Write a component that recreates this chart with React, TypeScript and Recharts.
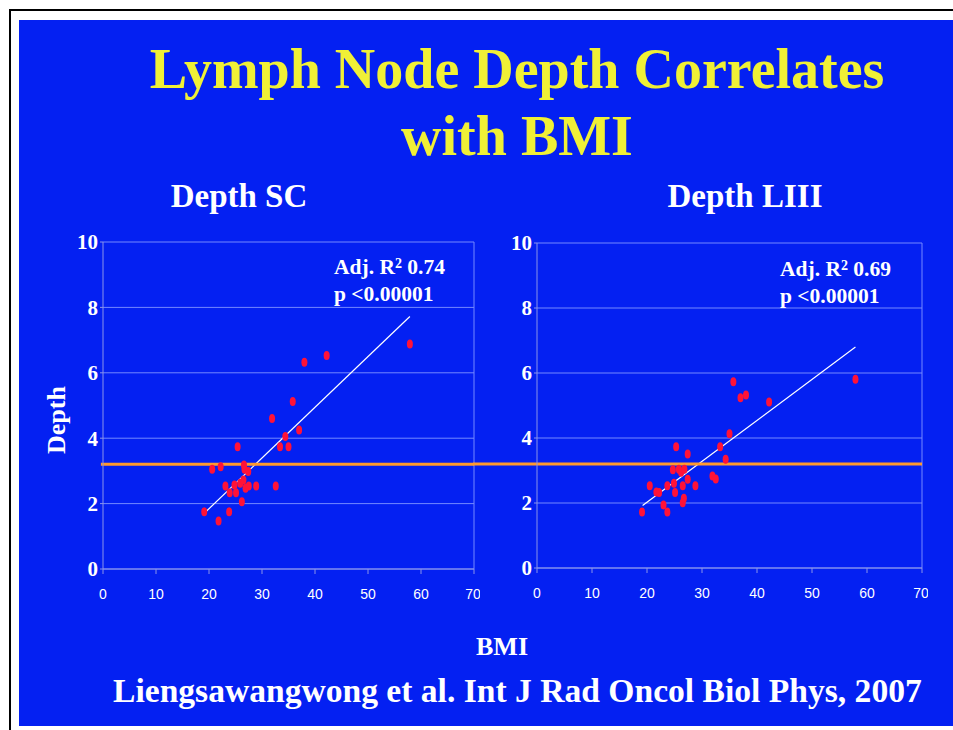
import React from 'react';
import { ScatterChart, Scatter, XAxis, YAxis, CartesianGrid, ReferenceLine } from 'recharts';

// BMI / depth pairs
const scBmi = [19.1, 20.6, 21.8, 22.2, 23.1, 23.8, 23.9, 24.8, 25.1, 25.4, 25.9, 26.2, 26.5, 26.7, 26.6, 26.9, 27.4, 27.5, 28.9, 31.9, 32.6, 33.4, 34.4, 35.0, 35.8, 37.0, 38.0, 42.2, 57.9];
const scDepth = [1.75, 3.05, 1.47, 3.13, 2.54, 1.75, 2.33, 2.57, 2.33, 3.74, 2.62, 2.06, 2.72, 3.05, 3.18, 2.47, 2.98, 2.54, 2.54, 4.6, 2.54, 3.74, 4.05, 3.74, 5.12, 4.25, 6.32, 6.53, 6.88];

const liiiBmi = [19.1, 20.5, 21.7, 22.2, 23.0, 23.7, 23.7, 24.7, 24.9, 25.1, 25.3, 25.8, 26.2, 26.5, 26.7, 26.5, 26.8, 27.4, 27.4, 28.8, 31.9, 32.5, 33.3, 34.3, 35.0, 35.7, 37.0, 38.0, 42.2, 57.9];
const liiiDepth = [1.72, 2.53, 2.34, 2.32, 1.94, 1.72, 2.53, 3.02, 2.61, 2.32, 3.73, 3.04, 2.95, 2.53, 2.15, 2.01, 3.04, 3.51, 2.73, 2.53, 2.83, 2.74, 3.73, 3.35, 4.13, 5.73, 5.24, 5.32, 5.11, 5.81];

// fitted lines (start / end)
const scFitBmi = [19.2, 57.9];
const scFitDepth = [1.72, 7.72];
const liiiFitBmi = [19.2, 57.9];
const liiiFitDepth = [1.92, 6.8];

const bmiTicks = [0, 10, 20, 30, 40, 50, 60, 70];
const depthTicks = [0, 2, 4, 6, 8, 10];
const threshold = 3.2;

const BLUE = '#0420f2';
const GRID = '#7488ff';
const AXIS = '#8a93e8';
const SERIF = '"Liberation Serif", "Times New Roman", serif';
const SANS = '"Liberation Sans", Arial, sans-serif';

const Dot = (p: any) => <ellipse cx={p.cx} cy={p.cy} rx={3} ry={4.5} fill="#ff1238" />;

interface PanelProps {
  bmi: number[];
  depth: number[];
  fitBmi: number[];
  fitDepth: number[];
  left: number;
  width: number;
  margin: { top: number; right: number; bottom: number; left: number };
  yWidth: number;
  lineFrom: number;
}

const Panel: React.FC<PanelProps> = ({ bmi, depth, fitBmi, fitDepth, left, width, margin, yWidth, lineFrom }) => {
  const pts = bmi.map((x, i) => ({ x, y: depth[i] }));
  return (
    <div style={{ position: 'absolute', left, top: 225 }}>
      <ScatterChart width={width} height={390} margin={margin}>
        <CartesianGrid horizontal vertical={false} stroke={GRID} />
        <XAxis
          type="number"
          dataKey="x"
          domain={[0, 70]}
          ticks={bmiTicks}
          height={30}
          tick={{ fill: '#fff', fontSize: 14, fontFamily: SANS }}
          tickSize={5}
          tickMargin={15}
          stroke={AXIS}
        />
        <YAxis
          type="number"
          dataKey="y"
          domain={[0, 10]}
          ticks={depthTicks}
          width={yWidth}
          tick={{ fill: '#fff', fontSize: 21, fontWeight: 'bold', fontFamily: SERIF }}
          tickSize={3}
          tickMargin={2}
          stroke={AXIS}
        />
        <ReferenceLine x={70} stroke={GRID} />
        <Scatter data={pts} shape={Dot} isAnimationActive={false} />
        <ReferenceLine
          segment={[{ x: fitBmi[0], y: fitDepth[0] }, { x: fitBmi[1], y: fitDepth[1] }]}
          stroke="#ffffff"
          strokeWidth={1.2}
        />
        <ReferenceLine
          segment={[{ x: lineFrom, y: threshold }, { x: 70, y: threshold }]}
          stroke="#ff9a2e"
          strokeWidth={3}
          ifOverflow="visible"
        />
      </ScatterChart>
    </div>
  );
};

const Stat: React.FC<{ left: number; top: number; r2: string }> = ({ left, top, r2 }) => (
  <div style={{ position: 'absolute', left, top, color: '#fff', fontFamily: SERIF, fontWeight: 'bold', fontSize: 21.5, lineHeight: '27px', whiteSpace: 'nowrap' }}>
    <div>Adj. R<sup style={{ fontSize: 14, verticalAlign: 'top', lineHeight: '20px' }}>2</sup> {r2}</div>
    <div>p &lt;0.00001</div>
  </div>
);

export default function App() {
  return (
    <div style={{ position: 'absolute', left: 0, top: 0, width: 953, height: 730, background: '#fff', overflow: 'hidden' }}>
      <div style={{ position: 'absolute', left: 9, top: 9, width: 944, height: 2, background: '#000' }} />
      <div style={{ position: 'absolute', left: 9, top: 9, width: 2, height: 721, background: '#000' }} />
      <div style={{ position: 'absolute', left: 19, top: 20, width: 934, height: 706, background: BLUE }} />

      <div style={{ position: 'absolute', left: 117, top: 36, width: 800, textAlign: 'center', color: '#f0f036', fontFamily: SERIF, fontWeight: 'bold', fontSize: 56, lineHeight: '67px' }}>
        Lymph Node Depth Correlates
        <br />
        with BMI
      </div>

      <div style={{ position: 'absolute', left: 39, top: 176, width: 400, textAlign: 'center', color: '#fff', fontFamily: SERIF, fontWeight: 'bold', fontSize: 33, lineHeight: '40px' }}>
        Depth SC
      </div>
      <div style={{ position: 'absolute', left: 545, top: 176, width: 400, textAlign: 'center', color: '#fff', fontFamily: SERIF, fontWeight: 'bold', fontSize: 33, lineHeight: '40px' }}>
        Depth LIII
      </div>

      <Panel bmi={scBmi} depth={scDepth} fitBmi={scFitBmi} fitDepth={scFitDepth} left={20} width={460}
        margin={{ top: 17, right: 6, bottom: 16, left: 0 }} yWidth={83} lineFrom={-0.4} />
      <Panel bmi={liiiBmi} depth={liiiDepth} fitBmi={liiiFitBmi} fitDepth={liiiFitDepth} left={455} width={473}
        margin={{ top: 18, right: 6, bottom: 17, left: 0 }} yWidth={82} lineFrom={-11.6} />

      <Stat left={334} top={254} r2="0.74" />
      <Stat left={780} top={256} r2="0.69" />

      <div style={{ position: 'absolute', left: 57, top: 420, transform: 'translate(-50%, -50%) rotate(-90deg)', color: '#fff', fontFamily: SERIF, fontWeight: 'bold', fontSize: 26, whiteSpace: 'nowrap' }}>
        Depth
      </div>
      <div style={{ position: 'absolute', left: 402, top: 630, width: 200, textAlign: 'center', color: '#fff', fontFamily: SERIF, fontWeight: 'bold', fontSize: 26, lineHeight: '34px' }}>
        BMI
      </div>
      <div style={{ position: 'absolute', left: 113, top: 671, color: '#fff', fontFamily: SERIF, fontWeight: 'bold', fontSize: 33.6, lineHeight: '40px', whiteSpace: 'nowrap' }}>
        Liengsawangwong et al. Int J Rad Oncol Biol Phys, 2007
      </div>
    </div>
  );
}
